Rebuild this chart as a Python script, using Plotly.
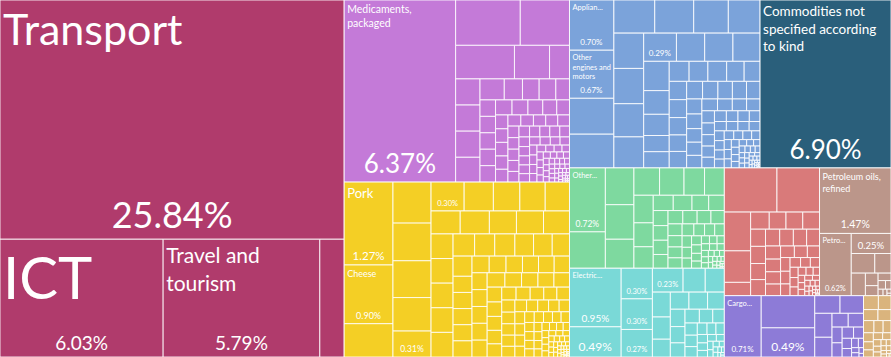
import plotly.graph_objects as go

# ---------------- data: share of total exports (%) ----------------
services_names = ["Transport", "ICT", "Travel and tourism", "Insurance and finance"]
services_values = [25.84, 6.03, 5.79, 0.90]

chemicals_names = ["Medicaments, packaged"]
chemicals_values = [6.37, 0.92, 0.70, 0.62, 0.37, 0.21, 0.20, 0.20, 0.20, 0.19,
                    0.16, 0.12, 0.11, 0.11, 0.09, 0.08, 0.08, 0.08, 0.08, 0.08,
                    0.078, 0.075, 0.070, 0.066, 0.060, 0.054, 0.053, 0.053, 0.052, 0.050,
                    0.045, 0.044, 0.043, 0.042, 0.041, 0.040, 0.040, 0.039, 0.038, 0.037,
                    0.036, 0.035, 0.034, 0.034, 0.033, 0.032, 0.031, 0.030, 0.029, 0.028,
                    0.027, 0.026, 0.025, 0.024, 0.023, 0.022, 0.021, 0.020, 0.019, 0.018,
                    0.017, 0.016, 0.016, 0.015, 0.015, 0.014, 0.014, 0.013, 0.013, 0.012,
                    0.012, 0.011, 0.011, 0.010, 0.010, 0.009, 0.009, 0.009, 0.008, 0.008,
                    0.008, 0.007, 0.007, 0.007, 0.006, 0.006, 0.006, 0.005, 0.005, 0.005,
                    0.004, 0.004, 0.004, 0.003, 0.003, 0.003, 0.003, 0.002, 0.002, 0.002,
                    0.002, 0.001, 0.001, 0.001, 0.001]

machinery_names = ["Appliances for pipes, boilers and tanks", "Other engines and motors"]
machinery_values = [0.70, 0.67, 0.50, 0.47, 0.425, 0.405, 0.36, 0.33, 0.33, 0.33,
                    0.31, 0.29, 0.29, 0.25, 0.25, 0.24, 0.235, 0.19, 0.17, 0.13,
                    0.13, 0.125, 0.118, 0.118, 0.11, 0.10, 0.10, 0.098, 0.095, 0.09,
                    0.09, 0.088, 0.085, 0.08, 0.078, 0.075, 0.072, 0.07, 0.065, 0.063,
                    0.06, 0.058, 0.055, 0.053, 0.05, 0.048, 0.046, 0.045, 0.044, 0.042,
                    0.04, 0.039, 0.038, 0.036, 0.035, 0.034, 0.033, 0.032, 0.03, 0.029,
                    0.028, 0.027, 0.026, 0.025, 0.024, 0.023, 0.022, 0.021, 0.02, 0.019,
                    0.018, 0.017, 0.016, 0.015, 0.014, 0.013, 0.012, 0.011, 0.01, 0.01,
                    0.009, 0.009, 0.008, 0.008, 0.007, 0.007, 0.006, 0.006, 0.005, 0.005,
                    0.004, 0.004, 0.003, 0.003, 0.003, 0.002, 0.002, 0.002, 0.002, 0.001,
                    0.001, 0.001, 0.001, 0.001]

unspecified_names = ["Commodities not specified according to kind"]
unspecified_values = [6.90]

agriculture_names = ["Pork", "Cheese"]
agriculture_values = [1.27, 0.90, 0.51, 0.49, 0.45, 0.44, 0.40, 0.31, 0.30, 0.265,
                      0.24, 0.23, 0.22, 0.21, 0.21, 0.195, 0.195, 0.187, 0.17, 0.17,
                      0.17, 0.17, 0.17, 0.15, 0.14, 0.14, 0.13, 0.13, 0.12, 0.12,
                      0.096, 0.096, 0.096, 0.096, 0.096, 0.09, 0.088, 0.086, 0.084, 0.082,
                      0.08, 0.08, 0.08, 0.08, 0.08, 0.08, 0.08, 0.075, 0.074, 0.072,
                      0.07, 0.068, 0.066, 0.064, 0.062, 0.06, 0.058, 0.057, 0.055, 0.053,
                      0.051, 0.05, 0.048, 0.047, 0.046, 0.044, 0.043, 0.041, 0.04, 0.039,
                      0.038, 0.037, 0.035, 0.034, 0.033, 0.032, 0.031, 0.03, 0.029, 0.028,
                      0.027, 0.026, 0.025, 0.024, 0.023, 0.022, 0.021, 0.02, 0.019, 0.018,
                      0.017, 0.016, 0.015, 0.014, 0.014, 0.013, 0.012, 0.012, 0.011, 0.01,
                      0.01, 0.009, 0.009, 0.008, 0.008, 0.007, 0.007, 0.006, 0.006, 0.005,
                      0.005, 0.005, 0.004, 0.004, 0.004, 0.003, 0.003, 0.003, 0.003, 0.002,
                      0.002, 0.002, 0.002, 0.002, 0.001, 0.001, 0.001, 0.001, 0.001, 0.001, 0.001]

other_names = ["Other toys"]
other_values = [0.72, 0.41, 0.33, 0.31, 0.26, 0.22, 0.21, 0.176, 0.17, 0.167,
                0.145, 0.13, 0.096, 0.09, 0.08, 0.075, 0.07, 0.068, 0.066, 0.064,
                0.062, 0.06, 0.058, 0.056, 0.052, 0.05, 0.048, 0.046, 0.044, 0.04,
                0.038, 0.036, 0.034, 0.032, 0.03, 0.028, 0.026, 0.024, 0.022, 0.02,
                0.019, 0.018, 0.017, 0.016, 0.015, 0.014, 0.013, 0.012, 0.011, 0.01,
                0.009, 0.008, 0.008, 0.007, 0.006, 0.005, 0.005, 0.004, 0.004, 0.003,
                0.003, 0.002, 0.002, 0.001, 0.001]

electronics_names = ["Electric generating sets"]
electronics_values = [0.95, 0.49, 0.30, 0.30, 0.27, 0.23, 0.166, 0.143, 0.14, 0.125,
                      0.10, 0.10, 0.10, 0.09, 0.08, 0.075, 0.065, 0.062, 0.058, 0.05,
                      0.047, 0.044, 0.04, 0.035, 0.032, 0.03, 0.027, 0.024, 0.021, 0.019,
                      0.017, 0.015, 0.013, 0.011, 0.009, 0.008, 0.007, 0.006, 0.005, 0.004,
                      0.003, 0.002]

metals_names = []
metals_values = [0.73, 0.59, 0.32, 0.26, 0.11, 0.10, 0.09, 0.09, 0.09, 0.08,
                 0.08, 0.075, 0.075, 0.075, 0.072, 0.07, 0.068, 0.062, 0.06, 0.058,
                 0.055, 0.05, 0.047, 0.044, 0.041, 0.038, 0.035, 0.032, 0.03, 0.028,
                 0.026, 0.024, 0.022, 0.02, 0.018, 0.016, 0.015, 0.014, 0.013, 0.012,
                 0.011, 0.01, 0.009, 0.008, 0.007, 0.006, 0.005, 0.005, 0.004, 0.004,
                 0.003, 0.003, 0.002, 0.002, 0.001, 0.001, 0.001]

minerals_names = ["Petroleum oils, refined", "Petroleum oils, crude"]
minerals_values = [1.47, 0.62, 0.25, 0.145, 0.10, 0.10, 0.05, 0.04, 0.03, 0.02,
                   0.015, 0.01, 0.008, 0.005, 0.003]

vehicles_names = ["Cargo vessels"]
vehicles_values = [0.71, 0.54, 0.49, 0.14, 0.13, 0.13, 0.107, 0.07, 0.066, 0.05,
                   0.045, 0.04, 0.035, 0.03, 0.025, 0.02, 0.015, 0.012, 0.01, 0.008, 0.005]

stone_names = []
stone_values = [0.065, 0.055, 0.05, 0.045, 0.04, 0.035, 0.03, 0.028, 0.025, 0.022,
                0.02, 0.018, 0.016, 0.014, 0.012, 0.01, 0.009, 0.008, 0.007, 0.006,
                0.005, 0.004, 0.003, 0.002]

sectors = ["Services", "Chemicals", "Machinery", "Unspecified", "Agriculture",
           "Other", "Electronics", "Metals", "Minerals", "Vehicles", "Stone"]
sector_data = {
    "Services": (services_names, services_values),
    "Chemicals": (chemicals_names, chemicals_values),
    "Machinery": (machinery_names, machinery_values),
    "Unspecified": (unspecified_names, unspecified_values),
    "Agriculture": (agriculture_names, agriculture_values),
    "Other": (other_names, other_values),
    "Electronics": (electronics_names, electronics_values),
    "Metals": (metals_names, metals_values),
    "Minerals": (minerals_names, minerals_values),
    "Vehicles": (vehicles_names, vehicles_values),
    "Stone": (stone_names, stone_values),
}

# ---------------- styles ----------------
sector_colors = {
    "Services": "#B03B6C", "Chemicals": "#C47AD8", "Machinery": "#7BA3DA",
    "Unspecified": "#2A5F7B", "Agriculture": "#F4CF25", "Other": "#7ED99F",
    "Electronics": "#7AD9D7", "Metals": "#D97A7A", "Minerals": "#BB968A",
    "Vehicles": "#8D7BD7", "Stone": "#DAB47D",
}
# shown name text, name font size, percent font size
name_style = {
    "Transport": ("Transport", 43, 36),
    "ICT": ("ICT", 58, 19),
    "Travel and tourism": ("Travel and<br>tourism", 21, 19),
    "Medicaments, packaged": ("Medicaments,<br>packaged", 10.5, 26),
    "Commodities not specified according to kind":
        ("Commodities not<br>specified according<br>to kind", 13.5, 26),
    "Pork": ("Pork", 13, 11.5),
    "Cheese": ("Cheese", 9, 9),
    "Appliances for pipes, boilers and tanks": ("Applian...", 7.5, 8),
    "Other engines and motors": ("Other<br>engines and<br>motors", 7.5, 8),
    "Other toys": ("Other...", 7.5, 8.5),
    "Electric generating sets": ("Electric...", 7.5, 10),
    "Petroleum oils, refined": ("Petroleum oils,<br>refined", 9, 10.5),
    "Petroleum oils, crude": ("Petro...", 7.5, 7.5),
    "Cargo vessels": ("Cargo...", 7.5, 8),
}
pct_only_style = {
    ("Agriculture", 7): 8.5, ("Agriculture", 8): 7.5,
    ("Machinery", 12): 8,
    ("Electronics", 1): 12, ("Electronics", 2): 7.5, ("Electronics", 3): 7.5,
    ("Electronics", 4): 7.5, ("Electronics", 5): 7.5,
    ("Minerals", 2): 9.5,
    ("Vehicles", 2): 12,
}

ids, labels, parents, values, colors = [], [], [], [], []
name_text, name_size, pct_text, pct_size = [], [], [], []

for s in sectors:
    ids.append(s); labels.append(s); parents.append(""); values.append(0)
    colors.append(sector_colors[s])
    name_text.append(""); name_size.append(8); pct_text.append(""); pct_size.append(8)
    names, vals = sector_data[s]
    for i, v in enumerate(vals):
        nm = names[i] if i < len(names) else f"{s} product {i + 1}"
        ids.append(nm); labels.append(nm); parents.append(s); values.append(v)
        colors.append(sector_colors[s])
        if nm in name_style:
            t, ns, ps = name_style[nm]
            name_text.append(t); name_size.append(ns)
            pct_text.append(f"{v:.2f}%"); pct_size.append(ps)
        elif (s, i) in pct_only_style:
            name_text.append(""); name_size.append(8)
            pct_text.append(f"{v:.2f}%"); pct_size.append(pct_only_style[(s, i)])
        else:
            name_text.append(""); name_size.append(8)
            pct_text.append(""); pct_size.append(8)

common = dict(ids=ids, labels=labels, parents=parents, values=values,
              branchvalues="remainder", sort=True,
              tiling=dict(packing="squarify", squarifyratio=1, pad=0),
              pathbar=dict(visible=False), domain=dict(x=[0, 1], y=[0, 1]))

fig = go.Figure()
fig.add_trace(go.Treemap(
    **common,
    marker=dict(colors=colors, line=dict(color="rgba(255,255,255,0.85)", width=1),
                pad=dict(t=0, l=0, r=0, b=0)),
    text=name_text, texttemplate="%{text}", textposition="top left",
    textfont=dict(family="Lato", color="white", size=name_size),
    hoverinfo="skip",
))
fig.add_trace(go.Treemap(
    **common,
    marker=dict(colors=["rgba(0,0,0,0)"] * len(ids), line=dict(width=0),
                pad=dict(t=0, l=0, r=0, b=0)),
    text=pct_text, texttemplate="%{text}", textposition="bottom center",
    textfont=dict(family="Lato", color="white", size=pct_size),
    hoverinfo="skip",
))
fig.update_layout(width=891, height=357, margin=dict(l=0, r=0, t=0, b=0),
                  paper_bgcolor="white", showlegend=False, hovermode=False)
fig.write_html("out.html",
               config={"displayModeBar": False, "staticPlot": True},
               post_script="document.body.style.margin='0';"
                           "document.body.style.padding='0';"
                           "document.body.style.overflow='hidden';")
